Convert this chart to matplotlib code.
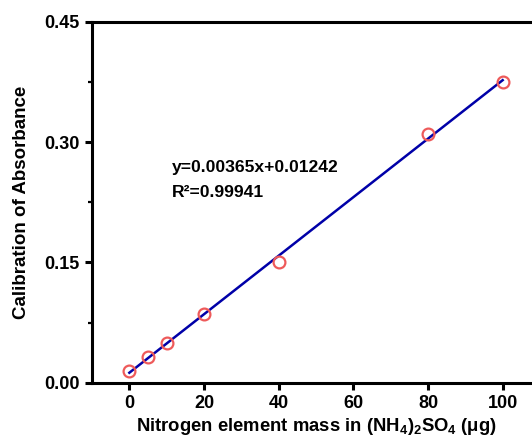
import numpy as np
import matplotlib
matplotlib.use('Agg')
import matplotlib.pyplot as plt

# data
mass = [0, 5, 10, 20, 40, 80, 100]
absorb = [0.0150, 0.0324, 0.0492, 0.0857, 0.1510, 0.3099, 0.3755]
slope, intercept = 0.00365, 0.01242
r2 = 0.99941

plt.rcParams['font.family'] = 'Liberation Sans'
plt.rcParams['font.weight'] = 'bold'
plt.rcParams['mathtext.fontset'] = 'custom'
plt.rcParams['mathtext.rm'] = 'Liberation Sans:bold'
plt.rcParams['mathtext.it'] = 'Liberation Sans:bold:italic'
plt.rcParams['mathtext.bf'] = 'Liberation Sans:bold'

fig = plt.figure(figsize=(5.32, 4.42), dpi=100)
ax = fig.add_axes([92/532, 1 - 382.7/442, 448/532, (382.7 - 22)/442])

# fitted line
fx = np.array([0, 100])
ax.plot(fx, slope * fx + intercept, color='#0000a8', linewidth=1.8, zorder=2)
ax.plot(mass, absorb, 'o', mfc='none', mec='#ee5a5a', mew=1.6, ms=8.5, zorder=3)

ax.set_xlim(-10, 110)
ax.set_ylim(0, 0.45)
ax.set_xticks([0, 20, 40, 60, 80, 100])
ax.set_yticks([0, 0.15, 0.30, 0.45])
ax.set_yticklabels(['0.00', '0.15', '0.30', '0.45'])
ax.set_yticks([0.075, 0.225, 0.375], minor=True)

for s in ax.spines.values():
    s.set_linewidth(2.2)
ax.tick_params(which='major', direction='out', length=5, width=2.2, labelsize=13, pad=4)
ax.tick_params(which='minor', direction='out', length=3, width=1.6)

ax.set_xlabel(r'Nitrogen element mass in (NH$_4$)$_2$SO$_4$ ($\mathregular{\mu}$g)',
              fontsize=13.3, fontweight='bold', labelpad=3)
ax.set_ylabel('Calibration of Absorbance', fontsize=13.5, fontweight='bold', labelpad=10)

ax.text(0.178, 0.596, 'y=0.00365x+0.01242', transform=ax.transAxes,
        fontsize=12.6, fontweight='bold', va='center')
ax.text(0.178, 0.527, f'R\u00b2={r2:.5f}', transform=ax.transAxes,
        fontsize=12.6, fontweight='bold', va='center')

fig.savefig('out.png', dpi=100)
